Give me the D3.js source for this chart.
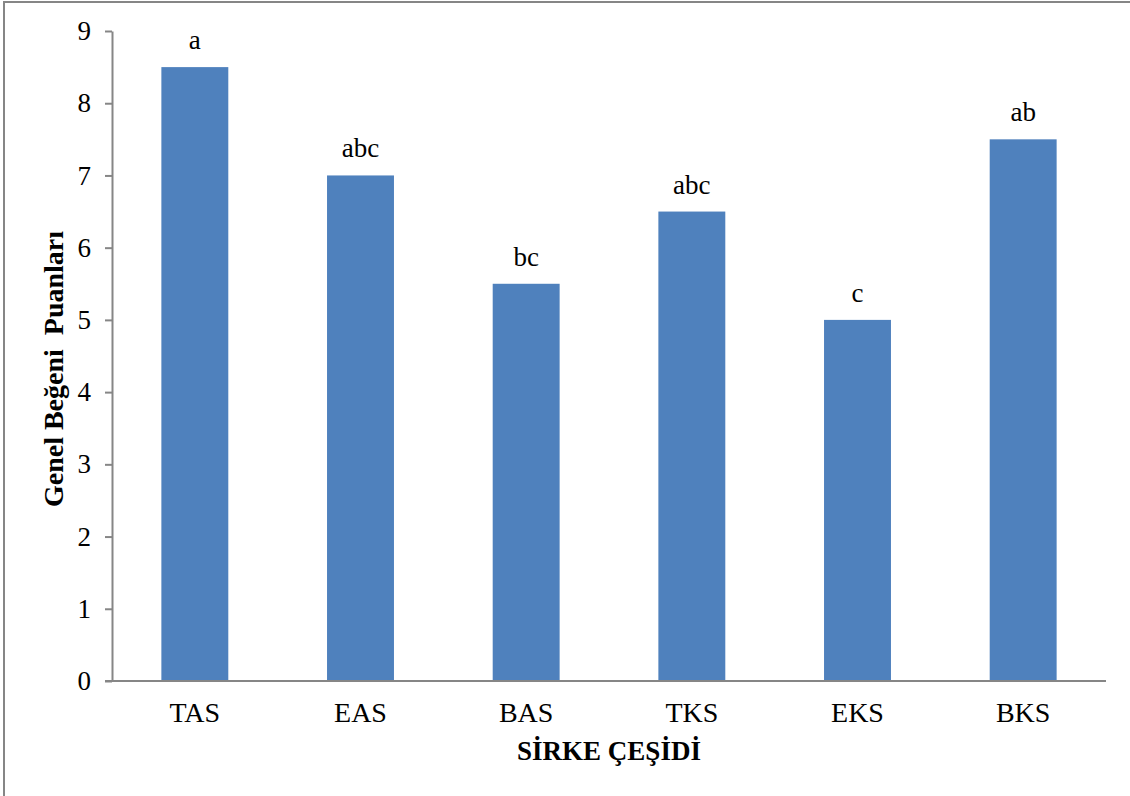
<!DOCTYPE html>
<html>
<head>
<meta charset="utf-8">
<script src="https://cdn.jsdelivr.net/npm/d3@7/dist/d3.min.js"></script>
<style>
  html, body { margin: 0; padding: 0; background: #fff; }
  svg { display: block; }
  svg text { font-family: "Liberation Serif", "Times New Roman", serif !important; fill: #000; }
</style>
</head>
<body>
<svg id="chart" width="1130" height="796"></svg>
<script>
// Vinegar types and their overall liking scores
const categories = ["TAS", "EAS", "BAS", "TKS", "EKS", "BKS"];
const scores = [8.5, 7, 5.5, 6.5, 5, 7.5];
const letters = ["a", "abc", "bc", "abc", "c", "ab"];
const yTicks = [0, 1, 2, 3, 4, 5, 6, 7, 8, 9];
const xTitle = "SİRKE ÇEŞİDİ";
const yTitle = "Genel Beğeni  Puanları";

const svg = d3.select("#chart");
const W = 1130, H = 796;
const margin = { left: 112, right: 24, top: 31, bottom: 115 };
const axisColor = "#868686";
const serif = "'Liberation Serif', 'Times New Roman', serif";

// outer chart frame
svg.append("rect")
  .attr("x", 4).attr("y", 2)
  .attr("width", W + 20).attr("height", H + 20)
  .attr("fill", "none").attr("stroke", axisColor).attr("stroke-width", 2);

const x = d3.scaleBand()
  .domain(categories)
  .range([margin.left, W - margin.right])
  .paddingInner(0.596)
  .paddingOuter(0.298);

const y = d3.scaleLinear()
  .domain([0, 9])
  .range([H - margin.bottom, margin.top]);

// bars
svg.append("g").selectAll("rect")
  .data(categories)
  .join("rect")
  .attr("x", d => x(d))
  .attr("y", (d, i) => y(scores[i]))
  .attr("width", x.bandwidth())
  .attr("height", (d, i) => y(0) - y(scores[i]))
  .attr("fill", "#4F81BD");

// significance letters above bars
svg.append("g").selectAll("text")
  .data(categories)
  .join("text")
  .attr("x", d => x(d) + x.bandwidth() / 2)
  .attr("y", (d, i) => y(scores[i]) - 18)
  .attr("text-anchor", "middle")
  .attr("font-family", serif)
  .style("font-size", "27px")
  .text((d, i) => letters[i]);

// y axis
const yAxis = svg.append("g")
  .attr("transform", `translate(${margin.left},0)`)
  .attr("font-family", serif)
  .call(d3.axisLeft(y).tickValues(yTicks).tickFormat(d3.format("d")).tickSize(7).tickSizeOuter(0).tickPadding(14));
yAxis.attr("font-family", serif);
yAxis.select(".domain").attr("stroke", axisColor).attr("stroke-width", 2);
yAxis.selectAll(".tick line").attr("stroke", axisColor).attr("stroke-width", 2);
yAxis.selectAll(".tick text")
  .style("font-size", "27px").attr("fill", "#000");

// x axis
const xAxis = svg.append("g")
  .attr("transform", `translate(0,${y(0)})`)
  .call(d3.axisBottom(x).tickSize(0).tickPadding(21));
xAxis.attr("font-family", serif);
xAxis.select(".domain")
  .attr("d", `M${margin.left - 7},0H${W - margin.right}`)
  .attr("stroke", axisColor).attr("stroke-width", 2);
xAxis.selectAll(".tick text")
  .style("font-size", "28px").attr("fill", "#000");

// axis titles
svg.append("text")
  .attr("x", (margin.left + W - margin.right) / 2)
  .attr("y", 760)
  .attr("text-anchor", "middle")
  .attr("font-family", serif)
  .style("font-size", "27px").style("font-weight", "bold")
  .text(xTitle);

svg.append("text")
  .attr("transform", "translate(63,369) rotate(-90)")
  .attr("text-anchor", "middle")
  .attr("font-family", serif)
  .style("font-size", "28px").style("font-weight", "bold")
  .style("white-space", "pre")
  .text(yTitle);
</script>
</body>
</html>
